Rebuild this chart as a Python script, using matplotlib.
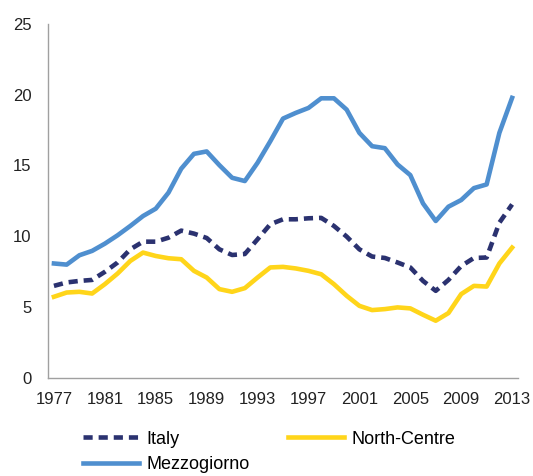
import matplotlib
matplotlib.use("Agg")
import matplotlib.pyplot as plt

plt.rcParams['font.family'] = ['Liberation Sans', 'DejaVu Sans']

years = list(range(1977, 2014))

italy = [6.5, 6.74, 6.85, 6.92, 7.49, 8.15, 9.08, 9.62, 9.62, 9.9,
         10.4, 10.19, 9.88, 9.08, 8.68, 8.75, 9.79, 10.85, 11.2, 11.2,
         11.27, 11.3, 10.73, 9.98, 9.08, 8.57, 8.47, 8.15, 7.8, 6.85,
         6.15, 6.92, 7.9, 8.47, 8.5, 10.96, 12.25]

north_centre = [5.73, 6.03, 6.08, 5.96, 6.62, 7.37, 8.26, 8.85, 8.61, 8.45,
                8.38, 7.56, 7.09, 6.27, 6.08, 6.34, 7.09, 7.8, 7.84, 7.73,
                7.56, 7.32, 6.62, 5.8, 5.09, 4.79, 4.86, 4.98, 4.91, 4.46,
                4.04, 4.58, 5.92, 6.5, 6.45, 8.08, 9.2]

mezzogiorno = [8.08, 8.0, 8.66, 8.97, 9.48, 10.07, 10.73, 11.43, 11.95, 13.08,
               14.77, 15.82, 15.99, 15.02, 14.13, 13.9, 15.19, 16.71, 18.31, 18.71,
               19.06, 19.74, 19.74, 18.94, 17.3, 16.36, 16.22, 15.07, 14.32, 12.32,
               11.08, 12.09, 12.56, 13.4, 13.66, 17.3, 19.77]

xticks = list(range(1977, 2014, 4))
yticks = [0, 5, 10, 15, 20, 25]

fig = plt.figure(figsize=(5.33, 4.76), dpi=100)
ax = fig.add_axes([0.09, 0.206, 0.882, 0.744])

lw = 3.3
l_it, = ax.plot(years, italy, color='#2b3270', lw=lw, dashes=(2.0, 1.3),
                label='Italy', solid_capstyle='butt')
l_nc, = ax.plot(years, north_centre, color='#ffd51a', lw=lw, label='North-Centre')
l_mz, = ax.plot(years, mezzogiorno, color='#4f8fcf', lw=lw, label='Mezzogiorno')

ax.set_xlim(1976.53, 2013.47)
ax.set_ylim(0, 25)
ax.set_xticks(xticks)
ax.set_yticks(yticks)
ax.tick_params(length=0, labelsize=12, colors='#222222')
ax.tick_params(axis='x', pad=10)
ax.tick_params(axis='y', pad=12)

for s in ('top', 'right'):
    ax.spines[s].set_visible(False)
for s in ('left', 'bottom'):
    ax.spines[s].set_color('#a0a0a0')
    ax.spines[s].set_linewidth(1.0)

# legend fills column-wise: Italy / Mezzogiorno in first column
fig.legend([l_it, l_mz, l_nc], ['Italy', 'Mezzogiorno', 'North-Centre'],
           ncol=2, loc='upper left',
           bbox_to_anchor=(0.155, 0.095), frameon=False, fontsize=13,
           handlelength=3.1, columnspacing=2.1, handletextpad=0.45,
           labelspacing=0.45, borderpad=0, borderaxespad=0)

fig.savefig('out.png', dpi=100)
